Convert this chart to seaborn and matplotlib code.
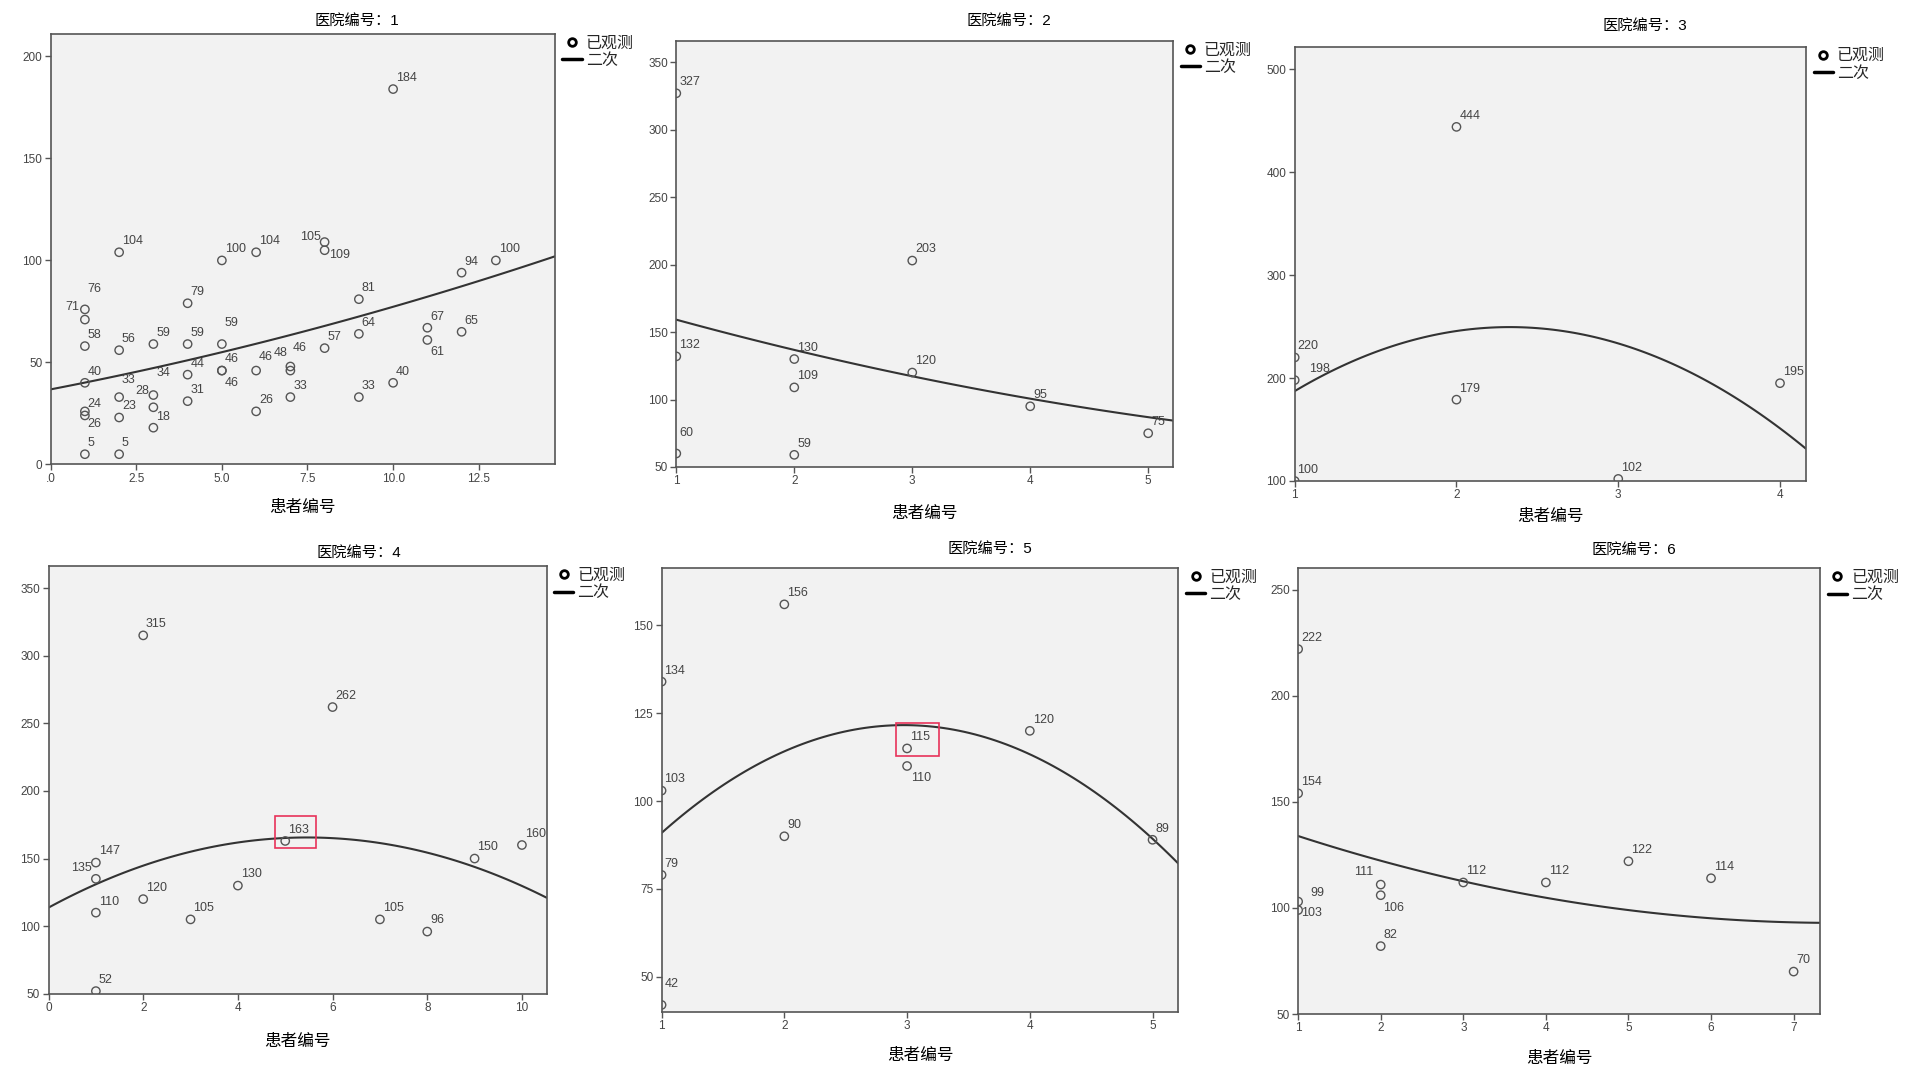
import numpy as np
import matplotlib
matplotlib.use("Agg")
import matplotlib.pyplot as plt
from matplotlib.lines import Line2D
from matplotlib.patches import Rectangle
import seaborn as sns

sns.set_style("ticks")
plt.rcParams['font.family'] = ['Liberation Sans', 'Noto Sans CJK SC', 'DejaVu Sans']

# ---- data ----
titles = ['医院编号：1', '医院编号：2', '医院编号：3', '医院编号：4', '医院编号：5', '医院编号：6']
x_label = '患者编号'
legend_labels = ['已观测', '二次']

h1_patient = [1, 1, 1, 1, 1, 1, 1, 2, 2, 2, 2, 2, 3, 3, 3, 3, 4, 4, 4, 4, 5, 5, 5, 5,
              6, 6, 6, 7, 7, 7, 8, 8, 8, 9, 9, 9, 10, 10, 11, 11, 12, 12, 13]
h1_value = [76, 71, 58, 40, 26, 24, 5, 104, 56, 33, 23, 5, 59, 34, 28, 18, 79, 59, 44, 31,
            100, 59, 46, 46, 104, 46, 26, 48, 46, 33, 109, 105, 57, 81, 64, 33, 184, 40,
            67, 61, 94, 65, 100]

h2_patient = [1, 1, 1, 2, 2, 2, 3, 3, 4, 5]
h2_value = [327, 132, 60, 130, 109, 59, 203, 120, 95, 75]

h3_patient = [1, 1, 1, 2, 2, 3, 4]
h3_value = [220, 198, 100, 444, 179, 102, 195]

h4_patient = [1, 1, 1, 1, 2, 2, 3, 4, 5, 6, 7, 8, 9, 10]
h4_value = [147, 135, 110, 52, 315, 120, 105, 130, 163, 262, 105, 96, 150, 160]

h5_patient = [1, 1, 1, 1, 2, 2, 3, 3, 4, 5]
h5_value = [134, 103, 79, 42, 156, 90, 115, 110, 120, 89]

h6_patient = [1, 1, 1, 1, 2, 2, 2, 3, 4, 5, 6, 7]
h6_value = [222, 154, 103, 99, 111, 106, 82, 112, 112, 122, 114, 70]

h1_xticks = [0, 2.5, 5, 7.5, 10, 12.5]
h1_xticklabels = ['.0', '2.5', '5.0', '7.5', '10.0', '12.5']

# ---- layout / style ----
panels = [
    dict(x=h1_patient, y=h1_value, rect=[0.0265, 0.5684, 0.2638, 0.400], xlim=(0, 14.72), ylim=(0, 211),
         xticks=h1_xticks, xticklabels=h1_xticklabels, yticks=[0, 50, 100, 150, 200],
         title_xy=(0.187, 0.981), xlab_gap=43,
         offsets={0: (2, 15, 'left'), 1: (-4, 9, 'right'), 4: (2, -9, 'left'), 9: (2, 12, 'left'),
                  13: (2, 16, 'left'), 14: (-3, 12, 'right'), 21: (2, 15, 'left'), 23: (2, -9, 'left'),
                  25: (2, 10, 'left'), 27: (-2, 10, 'right'), 28: (2, 16, 'left'), 30: (3, -9, 'left'),
                  31: (-3, 9.5, 'right'), 39: (2, -9, 'left')}),
    dict(x=h2_patient, y=h2_value, rect=[0.3539, 0.566, 0.2599, 0.3962], xlim=(1, 5.21), ylim=(50, 366),
         xticks=[1, 2, 3, 4, 5], yticks=[50, 100, 150, 200, 250, 300, 350],
         title_xy=(0.528, 0.981), xlab_gap=46, offsets={2: (2, 15, 'left')}),
    dict(x=h3_patient, y=h3_value, rect=[0.6775, 0.553, 0.2675, 0.4037], xlim=(1, 4.16), ylim=(100, 522),
         xticks=[1, 2, 3, 4], yticks=[100, 200, 300, 400, 500],
         title_xy=(0.861, 0.976), xlab_gap=35, offsets={1: (10, 8, 'left')}),
    dict(x=h4_patient, y=h4_value, rect=[0.0254, 0.0764, 0.2606, 0.3972], xlim=(0, 10.52), ylim=(50, 366),
         xticks=[0, 2, 4, 6, 8, 10], yticks=[50, 100, 150, 200, 250, 300, 350],
         title_xy=(0.188, 0.4864), xlab_gap=48, offsets={1: (-3, 8, 'right')}, highlight=8),
    dict(x=h5_patient, y=h5_value, rect=[0.3462, 0.0595, 0.2704, 0.4128], xlim=(1, 5.21), ylim=(40, 166.4),
         xticks=[1, 2, 3, 4, 5], yticks=[50, 75, 100, 125, 150],
         title_xy=(0.518, 0.4898), xlab_gap=43, offsets={3: (2, 15, 'left'), 7: (3, -9, 'left')}, highlight=6),
    dict(x=h6_patient, y=h6_value, rect=[0.6793, 0.0576, 0.2731, 0.4141], xlim=(1, 7.32), ylim=(50, 260),
         xticks=[1, 2, 3, 4, 5, 6, 7], yticks=[50, 100, 150, 200, 250],
         title_xy=(0.855, 0.4886), xlab_gap=44,
         offsets={2: (2, -8, 'left'), 3: (9, 12, 'left'), 4: (-5, 9, 'right'), 5: (2, -9, 'left')}),
]

W, H = 1911, 1076
fig = plt.figure(figsize=(W / 100, H / 100), dpi=100)
fig.patch.set_facecolor('white')

for p, title in zip(panels, titles):
    ax = fig.add_axes(p['rect'])
    ax.set_facecolor('#f2f2f2')
    xs = np.array(p['x'], dtype=float)
    ys = np.array(p['y'], dtype=float)
    ax.set_xlim(p['xlim'])
    ax.set_ylim(p['ylim'])

    # quadratic fit line across the whole x range
    sns.regplot(x=xs, y=ys, order=2, ci=None, scatter=False, truncate=False, ax=ax,
                line_kws=dict(color='#333333', lw=1.5))
    sns.scatterplot(x=xs, y=ys, ax=ax, s=36, marker='o', facecolor='none',
                    edgecolor='#555555', linewidth=1.0, zorder=3)
    ax.set_xlim(p['xlim'])
    ax.set_ylim(p['ylim'])

    for i, (xv, yv) in enumerate(zip(xs, ys)):
        dx, dy, ha = p['offsets'].get(i, (2, 8, 'left'))
        ax.annotate(str(int(yv)), (xv, yv), xytext=(dx, dy), textcoords='offset points',
                    ha=ha, va='center', fontsize=9, color='#444444', annotation_clip=False)

    ax.set_xticks(p['xticks'])
    ax.set_xticklabels(p.get('xticklabels', [str(t) for t in p['xticks']]))
    ax.set_yticks(p['yticks'])
    ax.set_yticklabels([str(t) for t in p['yticks']])
    ax.tick_params(direction='out', length=4, width=1, color='#555555',
                   labelsize=8.5, labelcolor='#444444', pad=2)
    for sp in ax.spines.values():
        sp.set_color('#555555')
        sp.set_linewidth(1.2)

    ax.set_xlabel(x_label, fontsize=12, color='black')
    ax.xaxis.label.set_va('center')
    ax.xaxis.set_label_coords(0.5, -p['xlab_gap'] / (p['rect'][3] * H))
    ax.set_ylabel('')

    fig.text(p['title_xy'][0], p['title_xy'][1], title, ha='center', va='center',
             fontsize=11, color='black')

    handles = [Line2D([], [], marker='o', ls='none', mfc='none', mec='black', mew=2, ms=5.5),
               Line2D([], [], color='black', lw=2.5)]
    ax.legend(handles, legend_labels, loc='upper left', bbox_to_anchor=(1.012, 1.0),
              frameon=False, fontsize=11.5, handlelength=1.2, handletextpad=0.25,
              labelspacing=0.15, borderaxespad=0, borderpad=0.1)

    if 'highlight' in p:
        k = p['highlight']
        px, py = ax.transAxes.inverted().transform(ax.transData.transform((xs[k], ys[k])))
        ax.add_patch(Rectangle((px - 0.021, py - 0.016), 0.082, 0.074, transform=ax.transAxes,
                               fill=False, ec='#e8325a', lw=1.2, zorder=5, clip_on=False))

fig.savefig('out.png', dpi=100, facecolor='white')
